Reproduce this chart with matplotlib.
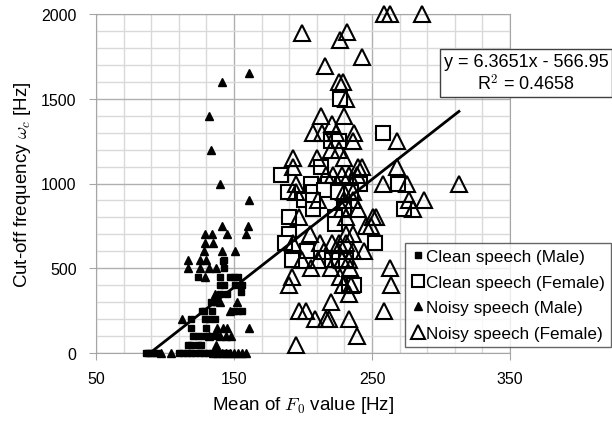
import numpy as np
import matplotlib
matplotlib.use("Agg")
import matplotlib.pyplot as plt
from matplotlib.ticker import FixedLocator, MultipleLocator

# values (F0 mean [Hz], cut-off [Hz])
clean_male_x = [86, 88, 90, 92, 94, 110, 113, 116, 119, 122, 125, 128, 131, 134, 137, 140, 143, 146,
                117, 119, 124, 126,
                120, 124, 128, 132, 136,
                119, 130,
                119, 129, 132, 136,
                127, 128, 134, 150, 153, 156,
                133, 136, 137,
                140, 145, 155,
                140, 143, 151, 156,
                124, 140, 147, 150, 153,
                143, 143, 142]
clean_male_y = [0] * 18 + \
               [50, 50, 50, 50] + \
               [100] * 5 + \
               [150, 150] + \
               [200] * 4 + \
               [250, 250, 250, 250, 250, 250] + \
               [300, 300, 300] + \
               [350, 350, 360] + \
               [400] * 4 + \
               [450] * 5 + \
               [500, 550, 545]

clean_female_x = [258, 227, 220, 226, 213, 184, 206, 218, 229, 241, 269, 189, 207, 215, 225, 235,
                  201, 207, 207, 230, 273, 190, 223, 223, 190, 187, 252, 192, 203, 221, 226, 231,
                  233, 237]
clean_female_y = [1300, 1500, 1250, 1250, 1100, 1050, 1000, 1000, 1000, 1000, 1000, 950, 950, 960, 950, 950,
                  900, 900, 850, 850, 850, 800, 800, 760, 700, 650, 650, 550, 600, 550, 550, 550,
                  410, 400]

noisy_male_x = [141, 161, 132, 133, 140, 161, 141, 160, 129, 134, 145, 159, 129, 135, 128, 141, 151,
                117, 125, 130, 117, 125, 132, 137, 129, 136, 140, 147, 152, 112, 161, 138, 142, 145,
                132, 140, 144, 148, 137, 97, 104, 135, 138, 141, 144, 147, 150, 153, 156, 159]
noisy_male_y = [1600, 1650, 1400, 1200, 1000, 900, 750, 750, 700, 700, 700, 700, 650, 650, 600, 600, 600,
                550, 550, 550, 500, 500, 500, 500, 450, 350, 300, 250, 300, 200, 150, 150, 150, 150,
                100, 100, 100, 100, 50, 0, 0, 0, 0, 0, 0, 0, 0, 0, 0, 0]

noisy_female_x = [259, 263, 286, 199, 232, 227, 243, 216, 226, 229, 231, 213, 230, 221, 207, 214, 224, 237,
                  236, 268, 220, 226, 193, 210, 230, 193, 240, 243, 268, 217, 222, 228, 233, 239,
                  195, 258, 275, 313, 195, 230, 236, 211, 230, 236, 277, 288, 280, 228, 240,
                  197, 231, 251, 253, 249, 246, 205, 231, 236, 212, 221, 226, 231, 193, 244,
                  215, 225, 236, 199, 211, 228, 233, 206, 220, 234, 263, 192, 227, 190, 229, 235, 264,
                  233, 220, 197, 202, 259, 209, 217, 219, 233, 239, 195]
noisy_female_y = [2000, 2000, 2000, 1890, 1895, 1845, 1745, 1695, 1600, 1600, 1500, 1400, 1400, 1350, 1300, 1300, 1300, 1300,
                  1250, 1250, 1200, 1200, 1150, 1150, 1150, 1100, 1100, 1100, 1100, 1050, 1050, 1050, 1050, 1050,
                  1000, 1000, 1000, 1000, 950, 950, 950, 900, 900, 900, 900, 900, 850, 850, 850,
                  800, 800, 800, 800, 750, 750, 700, 700, 700, 650, 650, 650, 650, 650, 600,
                  600, 600, 600, 550, 550, 550, 550, 500, 500, 500, 500, 450, 450, 400, 400, 400, 400,
                  350, 300, 250, 250, 250, 200, 200, 200, 200, 100, 50]

x_ticks = [50, 150, 250, 350]
y_ticks = [0, 500, 1000, 1500, 2000]
slope, intercept, r2 = 6.3651, -566.95, 0.4658

plt.rcParams['font.family'] = ['Liberation Sans', 'DejaVu Sans']
plt.rcParams['mathtext.fontset'] = 'cm'

fig = plt.figure(figsize=(6.12, 4.27), dpi=100)
ax = fig.add_axes([96 / 612, 1 - 354 / 427, 414 / 612, 339 / 427])

ax.set_xlim(50, 350)
ax.set_ylim(0, 2000)
ax.xaxis.set_major_locator(FixedLocator(x_ticks))
ax.xaxis.set_minor_locator(FixedLocator(np.arange(50, 351, 20)))
ax.yaxis.set_major_locator(FixedLocator(y_ticks))
ax.yaxis.set_minor_locator(MultipleLocator(100))
ax.grid(which='minor', color='#d9d9d9', lw=1.0, zorder=0)
ax.grid(which='major', color='#b0b0b0', lw=1.0, zorder=0)
ax.set_axisbelow(True)
for s in ax.spines.values():
    s.set_color('#a6a6a6')
ax.tick_params(which='major', length=5, color='#a6a6a6', labelsize=11.5)
ax.tick_params(axis='y', pad=9)
ax.tick_params(axis='x', pad=8)
ax.tick_params(which='minor', length=0)

ms = dict(linestyle='none', clip_on=False, zorder=3)
ax.plot(clean_male_x, clean_male_y, 's', color='black', markersize=5, label='Clean speech (Male)', **ms)
ax.plot(clean_female_x, clean_female_y, 's', markerfacecolor='white', markeredgecolor='black',
        markersize=10, markeredgewidth=1.5, label='Clean speech (Female)', **ms)
ax.plot(noisy_male_x, noisy_male_y, '^', color='black', markersize=6, label='Noisy speech (Male)', **ms)
ax.plot(noisy_female_x, noisy_female_y, '^', markerfacecolor='none', markeredgecolor='black',
        markersize=12, markeredgewidth=1.5, label='Noisy speech (Female)', **ms)

# trendline over the data range
all_x = np.array(clean_male_x + clean_female_x + noisy_male_x + noisy_female_x)
tx = np.array([all_x.min(), all_x.max()])
ax.plot(tx, slope * tx + intercept, color='black', lw=2, zorder=4)

fig.text(526 / 612, 1 - 74 / 427, 'y = 6.3651x - 566.95\nR$^2$ = 0.4658', ha='center', va='center',
         fontsize=13, linespacing=1.2,
         bbox=dict(boxstyle='square,pad=0.2', facecolor='white', edgecolor='#404040', lw=1))

leg = ax.legend(loc='upper left', bbox_to_anchor=(405 / 612, 1 - 244 / 427), bbox_transform=fig.transFigure,
                fontsize=12.3, frameon=True, fancybox=False, handletextpad=0.1, handlelength=0.8,
                borderpad=0.35, labelspacing=0.62, borderaxespad=0)
leg.get_frame().set_edgecolor('#404040')
leg.get_frame().set_linewidth(1)
for h in leg.legend_handles:
    h.set_markersize(h.get_markersize() * 0.85)

ax.set_xlabel('Mean of $F_0$ value [Hz]', fontsize=13.5, labelpad=6)
ax.set_ylabel('Cut-off frequency $\\omega_c$ [Hz]', fontsize=13.5, labelpad=6)

fig.savefig('out.png', dpi=100)
